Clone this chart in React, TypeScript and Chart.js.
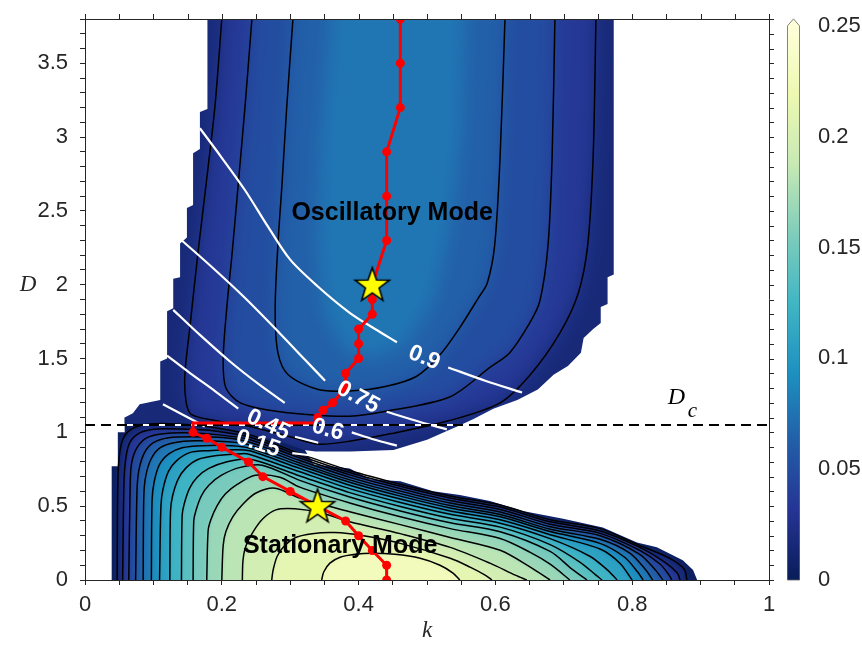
import React, { useEffect, useRef } from "react";
import { Chart, registerables } from "chart.js";

Chart.register(...registerables);

// ---------- axes ----------
const K_LABELS = [0, 0.2, 0.4, 0.6, 0.8, 1];
const D_LABELS = [0, 0.5, 1, 1.5, 2, 2.5, 3, 3.5];
const K_TICKS = Array.from({ length: 21 }, (_, i) => i / 20);
const D_TICKS = Array.from({ length: 39 }, (_, i) => i / 10);
const CB_LABELS = [0, 0.05, 0.1, 0.15, 0.2, 0.25];
const CB_MAX = 0.2531;
const D_MAX = 3.8;
const D_C = 1.05;

// ---------- stationary lobe (lower) ----------
const LOWER_EDGE = [
  [0.039, 0], [0.039, 0.77], [0.048, 0.77], [0.048, 1.0], [0.058, 1.0], [0.058, 1.1],
  [0.1, 1.09], [0.17, 1.08], [0.24, 1.02], [0.29, 0.95], [0.32, 0.89], [0.335, 0.783],
  [0.387, 0.756], [0.417, 0.682], [0.461, 0.669], [0.509, 0.602], [0.548, 0.575],
  [0.592, 0.535], [0.64, 0.468], [0.699, 0.415], [0.757, 0.355], [0.807, 0.254],
  [0.836, 0.221], [0.874, 0.134], [0.889, 0.067], [0.895, 0],
];
const LOWER_BASE = 0.004;
const LOWER_LEVELS = [0.01, 0.025, 0.04, 0.055, 0.07, 0.085, 0.1, 0.115, 0.13, 0.145, 0.16, 0.175, 0.19, 0.205, 0.22];
const LOWER_CONTOURS = [
  [[0.047, 0], [0.048, 0.669], [0.051, 0.87], [0.057, 0.97], [0.071, 1.03], [0.095, 1.057], [0.132, 1.057], [0.183, 1.037], [0.241, 0.983], [0.314, 0.856], [0.387, 0.742], [0.461, 0.649], [0.534, 0.569], [0.607, 0.508], [0.68, 0.408], [0.753, 0.348], [0.811, 0.234], [0.855, 0.147], [0.876, 0.074], [0.88, 0]],
  [[0.055, 0], [0.057, 0.669], [0.06, 0.836], [0.066, 0.936], [0.08, 0.997], [0.104, 1.023], [0.139, 1.023], [0.19, 1.01], [0.241, 0.967], [0.314, 0.842], [0.387, 0.728], [0.461, 0.635], [0.534, 0.555], [0.607, 0.494], [0.68, 0.394], [0.753, 0.332], [0.811, 0.221], [0.848, 0.12], [0.866, 0.047], [0.87, 0]],
  [[0.064, 0], [0.066, 0.635], [0.068, 0.789], [0.076, 0.896], [0.09, 0.963], [0.114, 0.99], [0.146, 0.997], [0.197, 0.983], [0.241, 0.95], [0.314, 0.826], [0.387, 0.712], [0.461, 0.619], [0.534, 0.538], [0.607, 0.478], [0.68, 0.378], [0.753, 0.316], [0.811, 0.201], [0.841, 0.107], [0.854, 0.033], [0.858, 0]],
  [[0.074, 0], [0.076, 0.602], [0.079, 0.749], [0.087, 0.863], [0.1, 0.93], [0.122, 0.963], [0.154, 0.97], [0.205, 0.963], [0.241, 0.933], [0.314, 0.809], [0.387, 0.695], [0.461, 0.602], [0.534, 0.521], [0.607, 0.461], [0.68, 0.361], [0.753, 0.3], [0.811, 0.174], [0.834, 0.067], [0.845, 0]],
  [[0.085, 0], [0.086, 0.569], [0.089, 0.709], [0.097, 0.823], [0.11, 0.896], [0.13, 0.93], [0.161, 0.943], [0.209, 0.936], [0.241, 0.915], [0.314, 0.792], [0.387, 0.678], [0.461, 0.585], [0.534, 0.504], [0.607, 0.444], [0.68, 0.344], [0.753, 0.276], [0.797, 0.181], [0.82, 0.067], [0.83, 0]],
  [[0.097, 0], [0.098, 0.535], [0.101, 0.662], [0.109, 0.783], [0.123, 0.856], [0.142, 0.896], [0.171, 0.91], [0.215, 0.91], [0.241, 0.893], [0.314, 0.776], [0.387, 0.662], [0.461, 0.568], [0.534, 0.488], [0.607, 0.428], [0.68, 0.328], [0.753, 0.248], [0.789, 0.154], [0.808, 0.054], [0.816, 0]],
  [[0.109, 0], [0.111, 0.502], [0.114, 0.615], [0.122, 0.736], [0.134, 0.809], [0.153, 0.863], [0.18, 0.876], [0.222, 0.883], [0.241, 0.875], [0.314, 0.756], [0.387, 0.642], [0.461, 0.548], [0.534, 0.468], [0.607, 0.408], [0.68, 0.307], [0.753, 0.21], [0.782, 0.114], [0.8, 0]],
  [[0.124, 0], [0.125, 0.468], [0.128, 0.569], [0.136, 0.682], [0.147, 0.756], [0.165, 0.816], [0.193, 0.843], [0.23, 0.856], [0.241, 0.85], [0.314, 0.733], [0.387, 0.619], [0.461, 0.525], [0.534, 0.445], [0.607, 0.385], [0.68, 0.28], [0.738, 0.161], [0.764, 0.067], [0.778, 0]],
  [[0.141, 0], [0.142, 0.435], [0.145, 0.515], [0.153, 0.622], [0.164, 0.696], [0.181, 0.756], [0.209, 0.803], [0.241, 0.82], [0.314, 0.705], [0.387, 0.592], [0.461, 0.498], [0.534, 0.418], [0.607, 0.358], [0.68, 0.24], [0.724, 0.12], [0.747, 0.033], [0.756, 0]],
  [[0.158, 0], [0.159, 0.401], [0.162, 0.468], [0.17, 0.569], [0.181, 0.642], [0.199, 0.709], [0.227, 0.763], [0.259, 0.778], [0.314, 0.675], [0.387, 0.562], [0.461, 0.468], [0.534, 0.388], [0.607, 0.327], [0.68, 0.194], [0.712, 0.074], [0.734, 0]],
  [[0.178, 0], [0.18, 0.334], [0.184, 0.408], [0.193, 0.502], [0.205, 0.582], [0.223, 0.649], [0.249, 0.709], [0.285, 0.696], [0.314, 0.629], [0.387, 0.522], [0.461, 0.428], [0.534, 0.348], [0.607, 0.281], [0.651, 0.187], [0.68, 0.107], [0.709, 0]],
  [[0.2, 0], [0.202, 0.234], [0.206, 0.328], [0.216, 0.428], [0.231, 0.515], [0.25, 0.589], [0.278, 0.622], [0.314, 0.555], [0.387, 0.462], [0.461, 0.375], [0.534, 0.288], [0.607, 0.201], [0.651, 0.087], [0.68, 0]],
  [[0.23, 0], [0.231, 0.134], [0.235, 0.227], [0.246, 0.328], [0.26, 0.415], [0.279, 0.475], [0.307, 0.482], [0.344, 0.455], [0.387, 0.395], [0.461, 0.314], [0.534, 0.221], [0.592, 0.114], [0.629, 0.033], [0.646, 0]],
  [[0.273, 0], [0.275, 0.067], [0.281, 0.161], [0.292, 0.234], [0.308, 0.288], [0.332, 0.314], [0.365, 0.321], [0.405, 0.301], [0.461, 0.248], [0.534, 0.147], [0.563, 0.087], [0.585, 0.033], [0.595, 0]],
  [[0.346, 0], [0.349, 0.054], [0.358, 0.114], [0.373, 0.154], [0.395, 0.174], [0.42, 0.181], [0.453, 0.174], [0.49, 0.147], [0.519, 0.1], [0.538, 0.047], [0.548, 0]],
];

// ---------- oscillatory lobe (upper) ----------
const UPPER_EDGE = [
  [0.179, 3.8], [0.179, 3.19], [0.168, 3.17], [0.168, 2.92], [0.158, 2.89], [0.158, 2.54],
  [0.149, 2.52], [0.149, 2.32], [0.139, 2.28], [0.139, 2.05], [0.129, 2.04], [0.129, 1.84],
  [0.12, 1.82], [0.12, 1.5], [0.11, 1.48], [0.11, 1.22], [0.08, 1.19], [0.07, 1.13],
  [0.058, 1.1], [0.058, 1.06], [0.1, 1.06], [0.17, 1.04], [0.24, 0.99], [0.29, 0.93],
  [0.32, 0.88], [0.337, 0.87], [0.388, 0.87], [0.451, 0.88], [0.5, 0.95], [0.549, 1.05],
  [0.568, 1.09], [0.597, 1.16], [0.632, 1.22], [0.662, 1.29], [0.685, 1.39], [0.706, 1.45],
  [0.725, 1.54], [0.729, 1.64], [0.743, 1.7], [0.754, 1.74], [0.754, 1.85], [0.764, 1.87],
  [0.764, 2.05], [0.773, 2.07], [0.773, 3.8],
];
const UPPER_BASE = 0.016;
const UPPER_FILLS = [0.034, 0.05, 0.064];
const UPPER_CONTOURS = [
  [[0.2, 3.8], [0.19, 3.21], [0.177, 2.68], [0.165, 2.21], [0.154, 1.74], [0.146, 1.39], [0.148, 1.2], [0.156, 1.12], [0.19, 1.08], [0.241, 1.04], [0.3, 0.97], [0.341, 0.92], [0.387, 0.94], [0.446, 0.99], [0.533, 1.08], [0.607, 1.2], [0.651, 1.39], [0.694, 1.67], [0.721, 1.94], [0.735, 2.27], [0.743, 2.88], [0.747, 3.8]],
  [[0.244, 3.8], [0.234, 3.21], [0.224, 2.68], [0.215, 2.21], [0.207, 1.83], [0.202, 1.49], [0.206, 1.3], [0.227, 1.2], [0.27, 1.15], [0.329, 1.12], [0.387, 1.11], [0.436, 1.14], [0.533, 1.24], [0.592, 1.44], [0.621, 1.54], [0.65, 1.74], [0.665, 1.89], [0.677, 2.27], [0.683, 2.88], [0.687, 3.8]],
  [[0.304, 3.8], [0.295, 3.21], [0.288, 2.68], [0.282, 2.27], [0.278, 1.83], [0.282, 1.54], [0.297, 1.39], [0.341, 1.29], [0.387, 1.28], [0.439, 1.31], [0.485, 1.38], [0.518, 1.52], [0.548, 1.71], [0.575, 1.91], [0.588, 2.01], [0.599, 2.27], [0.607, 2.88], [0.614, 3.8]],
];
const UPPER_CORE_FILL = 0.077;
const UPPER_CORE = [[0.36, 3.8], [0.345, 3.0], [0.34, 2.3], [0.35, 1.8], [0.38, 1.56], [0.42, 1.5], [0.47, 1.6], [0.51, 1.9], [0.535, 2.4], [0.55, 3.0], [0.555, 3.8]];

// ---------- white labelled contours ----------
const WHITE_SEGMENTS = [
  [[0.168, 3.06], [0.2, 2.86], [0.234, 2.64], [0.268, 2.39], [0.3, 2.17], [0.34, 1.99], [0.387, 1.81], [0.424, 1.7], [0.456, 1.61]],
  [[0.531, 1.44], [0.585, 1.35], [0.639, 1.27]],
  [[0.139, 2.31], [0.183, 2.13], [0.234, 1.91], [0.285, 1.67], [0.322, 1.49], [0.351, 1.35]],
  [[0.441, 1.14], [0.49, 1.07], [0.529, 1.02]],
  [[0.129, 1.83], [0.168, 1.66], [0.212, 1.48], [0.253, 1.33], [0.292, 1.2]],
  [[0.39, 1.0], [0.424, 0.95], [0.456, 0.91]],
  [[0.12, 1.52], [0.154, 1.4], [0.19, 1.28], [0.224, 1.16]],
  [[0.307, 0.97], [0.341, 0.93]],
  [[0.114, 1.19], [0.143, 1.12], [0.175, 1.04]],
  [[0.303, 0.86], [0.336, 0.84]],
];
const WHITE_LABEL_TEXT = ["0.9", "0.75", "0.6", "0.45", "0.15"];
const WHITE_LABEL_K = [0.496, 0.399, 0.355, 0.268, 0.253];
const WHITE_LABEL_D = [1.505, 1.237, 1.017, 1.05, 0.923];
const WHITE_LABEL_ANGLE = [22, 28, 15, 25, 18];

// ---------- bifurcation path ----------
const PATH_K = [0.461, 0.461, 0.461, 0.441, 0.441, 0.441, 0.42, 0.42, 0.42, 0.4, 0.4, 0.4, 0.381, 0.381, 0.362, 0.348, 0.34, 0.337, 0.158, 0.158, 0.178, 0.2, 0.239, 0.26, 0.3, 0.34, 0.381, 0.4, 0.42, 0.441, 0.441];
const PATH_D = [3.8, 3.5, 3.2, 2.9, 2.6, 2.3, 2.0, 1.9, 1.8, 1.7, 1.6, 1.5, 1.4, 1.3, 1.2, 1.15, 1.1, 1.064, 1.064, 1.0, 0.96, 0.9, 0.8, 0.7, 0.6, 0.5, 0.4, 0.3, 0.2, 0.1, 0.0];
const PATH_DOT = [1, 1, 1, 1, 1, 1, 1, 1, 1, 1, 1, 1, 1, 1, 1, 1, 1, 0, 0, 1, 1, 1, 1, 1, 1, 1, 1, 1, 1, 1, 1];
const STAR_K = [0.42, 0.34];
const STAR_D = [2.0, 0.5];

// ---------- colours ----------
const YLGNBU = ["#081d58", "#253494", "#225ea8", "#1d91c0", "#41b6c4", "#7fcdbb", "#c7e9b4", "#edf8b1", "#ffffd9"];
const AXIS_COLOR = "#262626";
const SANS = '"Liberation Sans", Arial, Helvetica, sans-serif';
const SERIF = '"Liberation Serif", "Times New Roman", serif';

const rgbOf = (h: string) => [1, 3, 5].map((i) => parseInt(h.slice(i, i + 2), 16));
function cmap(v: number): string {
  const n = YLGNBU.length - 1;
  const t = Math.min(1, Math.max(0, v / 0.25)) * n;
  const i = Math.min(n - 1, Math.floor(t));
  const f = t - i;
  const a = rgbOf(YLGNBU[i]);
  const b = rgbOf(YLGNBU[i + 1]);
  return `rgb(${a.map((c, j) => Math.round(c + (b[j] - c) * f)).join(",")})`;
}

const toXY = (pts: number[][]) => pts.map(([x, y]) => ({ x, y }));

function makeStar(r: number): HTMLCanvasElement {
  const c = document.createElement("canvas");
  const s = Math.ceil(2 * r + 4);
  c.width = s;
  c.height = s;
  const g = c.getContext("2d")!;
  g.translate(s / 2, s / 2 + 1);
  g.beginPath();
  for (let i = 0; i < 10; i++) {
    const rad = i % 2 === 0 ? r : r * 0.4;
    const a = -Math.PI / 2 + (i * Math.PI) / 5;
    const x = rad * Math.cos(a);
    const y = rad * Math.sin(a);
    i ? g.lineTo(x, y) : g.moveTo(x, y);
  }
  g.closePath();
  g.fillStyle = "#ffff00";
  g.fill();
  g.lineWidth = 1.6;
  g.strokeStyle = "#000";
  g.stroke();
  return c;
}

// Shaded field: bands between contour levels, softened, clipped to each lobe.
const fieldPlugin = {
  id: "field",
  beforeDatasetsDraw(chart: any) {
    const { ctx, chartArea: a, scales } = chart;
    const xs = scales.x;
    const ys = scales.y;
    const P = (p: number[]) => [xs.getPixelForValue(p[0]), ys.getPixelForValue(p[1])];
    const tracePoly = (g: CanvasRenderingContext2D, pts: number[][]) => {
      pts.forEach((p, i) => {
        const [x, y] = P(p);
        i ? g.lineTo(x, y) : g.moveTo(x, y);
      });
      g.closePath();
    };
    const traceOpen = (g: CanvasRenderingContext2D, pts: number[][], edgeY: number) => {
      const q = pts.map(P);
      g.moveTo(q[0][0], edgeY);
      q.forEach(([x, y]) => g.lineTo(x, y));
      g.lineTo(q[q.length - 1][0], edgeY);
      g.closePath();
    };
    const lobe = (edge: number[][], base: number, bands: { pts: number[][]; value: number; open: string }[], blur: number) => {
      const off = document.createElement("canvas");
      off.width = chart.width;
      off.height = chart.height;
      const g = off.getContext("2d")!;
      g.fillStyle = cmap(base);
      g.fillRect(0, 0, off.width, off.height);
      bands.forEach((b) => {
        g.beginPath();
        if (b.open === "bottom") traceOpen(g, b.pts, a.bottom + 30);
        else if (b.open === "top") traceOpen(g, b.pts, a.top - 30);
        else tracePoly(g, b.pts);
        g.fillStyle = cmap(b.value);
        g.fill();
      });
      ctx.save();
      ctx.beginPath();
      tracePoly(ctx, edge);
      ctx.clip();
      ctx.filter = `blur(${blur}px)`;
      ctx.drawImage(off, 0, 0);
      ctx.restore();
    };
    lobe(
      LOWER_EDGE,
      LOWER_BASE,
      LOWER_CONTOURS.map((pts, i) => ({ pts, value: LOWER_LEVELS[i] + 0.0075, open: "bottom" })),
      2
    );
    lobe(
      UPPER_EDGE,
      UPPER_BASE,
      [
        ...UPPER_CONTOURS.map((pts, i) => ({ pts, value: UPPER_FILLS[i], open: "top" })),
        { pts: UPPER_CORE, value: UPPER_CORE_FILL, open: "top" },
      ],
      9
    );
  },
  afterDatasetsDraw(chart: any) {
    const { ctx, chartArea: a, scales } = chart;
    const xs = scales.x;
    const ys = scales.y;
    ctx.save();
    // inline labels of the white contours
    ctx.fillStyle = "#ffffff";
    ctx.font = `bold 23px ${SANS}`;
    ctx.textAlign = "center";
    ctx.textBaseline = "middle";
    WHITE_LABEL_TEXT.forEach((t, i) => {
      ctx.save();
      ctx.translate(xs.getPixelForValue(WHITE_LABEL_K[i]), ys.getPixelForValue(WHITE_LABEL_D[i]));
      ctx.rotate((WHITE_LABEL_ANGLE[i] * Math.PI) / 180);
      ctx.fillText(t, 0, 0);
      ctx.restore();
    });
    // region names
    ctx.fillStyle = "#000";
    ctx.font = `bold 25px ${SANS}`;
    ctx.fillText("Oscillatory Mode", xs.getPixelForValue(0.449), ys.getPixelForValue(2.488));
    ctx.fillText("Stationary Mode", xs.getPixelForValue(0.373), ys.getPixelForValue(0.227));
    // D_c label next to the critical line
    ctx.textAlign = "left";
    ctx.textBaseline = "alphabetic";
    const dcx = xs.getPixelForValue(0.852);
    const dcy = ys.getPixelForValue(D_C);
    ctx.font = `italic 24px ${SERIF}`;
    ctx.fillText("D", dcx, dcy - 21);
    ctx.font = `italic 21px ${SERIF}`;
    ctx.fillText("c", dcx + 20, dcy - 8);
    // y-axis name (horizontal)
    ctx.fillStyle = AXIS_COLOR;
    ctx.font = `italic 23px ${SERIF}`;
    ctx.textAlign = "center";
    ctx.textBaseline = "middle";
    ctx.fillText("D", a.left - 57, ys.getPixelForValue(2.0));
    ctx.restore();
  },
  afterDraw(chart: any) {
    const { ctx, chartArea: a, scales } = chart;
    const xs = scales.x;
    const ys = scales.y;
    const cb = scales.cb;
    ctx.save();
    // top and right frame with outward ticks
    ctx.strokeStyle = AXIS_COLOR;
    ctx.lineWidth = 1;
    ctx.beginPath();
    ctx.moveTo(a.left, a.top + 0.5);
    ctx.lineTo(a.right, a.top + 0.5);
    ctx.moveTo(a.right + 0.5, a.top);
    ctx.lineTo(a.right + 0.5, a.bottom);
    K_TICKS.forEach((v) => {
      const x = Math.round(xs.getPixelForValue(v)) + 0.5;
      ctx.moveTo(x, a.top);
      ctx.lineTo(x, a.top - 5);
    });
    D_TICKS.forEach((v) => {
      const y = Math.round(ys.getPixelForValue(v)) + 0.5;
      ctx.moveTo(a.right, y);
      ctx.lineTo(a.right + 5, y);
    });
    ctx.stroke();
    // colour bar
    const x0 = a.right + 18;
    const w = 13;
    const yb = cb.getPixelForValue(0);
    const yt = cb.getPixelForValue(0.25);
    const grad = ctx.createLinearGradient(0, yb, 0, yt);
    YLGNBU.forEach((c, i) => grad.addColorStop(i / (YLGNBU.length - 1), c));
    ctx.beginPath();
    ctx.moveTo(x0, yb);
    ctx.lineTo(x0, yt);
    ctx.lineTo(x0 + w / 2, yt - 7);
    ctx.lineTo(x0 + w, yt);
    ctx.lineTo(x0 + w, yb);
    ctx.closePath();
    ctx.fillStyle = grad;
    ctx.fill();
    ctx.fillStyle = YLGNBU[YLGNBU.length - 1];
    ctx.beginPath();
    ctx.moveTo(x0, yt + 0.5);
    ctx.lineTo(x0 + w / 2, yt - 7);
    ctx.lineTo(x0 + w, yt + 0.5);
    ctx.closePath();
    ctx.fill();
    ctx.beginPath();
    ctx.moveTo(x0 + 0.5, yb);
    ctx.lineTo(x0 + 0.5, yt);
    ctx.lineTo(x0 + w / 2, yt - 7);
    ctx.lineTo(x0 + w - 0.5, yt);
    ctx.lineTo(x0 + w - 0.5, yb);
    ctx.closePath();
    ctx.strokeStyle = "#666";
    ctx.lineWidth = 0.8;
    ctx.stroke();
    ctx.restore();
  },
};

const sameTick = (list: number[], v: number) => list.some((l) => Math.abs(l - v) < 1e-9);
const fmt = (v: number) => String(+v.toFixed(2));

export default function App() {
  const ref = useRef<HTMLCanvasElement>(null);

  useEffect(() => {
    const star = makeStar(18);
    const contourLine = (pts: number[][], order: number) => ({
      data: toXY(pts),
      showLine: true,
      borderColor: "#000",
      borderWidth: 1.5,
      pointRadius: 0,
      tension: 0.3,
      order,
    });
    const whiteLine = (pts: number[][]) => ({
      data: toXY(pts),
      showLine: true,
      borderColor: "#ffffff",
      borderWidth: 2.2,
      pointRadius: 0,
      tension: 0.3,
      order: 4,
    });
    const datasets: any[] = [
      ...LOWER_CONTOURS.map((c) => contourLine(c, 5)),
      ...UPPER_CONTOURS.map((c) => contourLine(c, 5)),
      ...WHITE_SEGMENTS.map(whiteLine),
      {
        data: toXY([[0, D_C], [1, D_C]]),
        showLine: true,
        borderColor: "#ffffff",
        borderWidth: 2,
        pointRadius: 0,
        order: 3,
      },
      {
        data: toXY([[0, D_C], [1, D_C]]),
        showLine: true,
        borderColor: "#000",
        borderWidth: 2,
        borderDash: [10, 6],
        pointRadius: 0,
        order: 2,
      },
      {
        data: PATH_K.map((k, i) => ({ x: k, y: PATH_D[i] })),
        showLine: true,
        borderColor: "#ff0000",
        borderWidth: 3,
        tension: 0,
        pointRadius: PATH_DOT.map((d) => (d ? 4.5 : 0)),
        pointBackgroundColor: "#ff0000",
        pointBorderWidth: 0,
        order: 1,
      },
      {
        data: STAR_K.map((k, i) => ({ x: k, y: STAR_D[i] })),
        showLine: false,
        pointStyle: star,
        pointRadius: 18,
        order: 0,
      },
    ];

    const tickFont = { family: SANS, size: 22 };
    const chart = new Chart(ref.current!, {
      type: "scatter",
      data: { datasets },
      options: {
        responsive: false,
        devicePixelRatio: 1,
        animation: false,
        events: [],
        layout: { padding: { top: 12, left: 0, right: 0, bottom: 0 } },
        plugins: { legend: { display: false }, tooltip: { enabled: false } },
        scales: {
          x: {
            type: "linear",
            position: "bottom",
            min: 0,
            max: 1,
            afterBuildTicks: (s: any) => {
              s.ticks = K_TICKS.map((value) => ({ value }));
            },
            afterFit: (s: any) => {
              s.height = 76;
              s.paddingLeft = 0;
              s.paddingRight = 0;
            },
            ticks: {
              autoSkip: false,
              maxRotation: 0,
              minRotation: 0,
              padding: 7,
              color: AXIS_COLOR,
              font: tickFont,
              callback: (v: any) => (sameTick(K_LABELS, v) ? fmt(v) : ""),
            },
            grid: { drawOnChartArea: false, drawTicks: true, tickLength: 5, color: AXIS_COLOR },
            border: { display: true, color: AXIS_COLOR, width: 1 },
            title: {
              display: true,
              text: "k",
              color: AXIS_COLOR,
              font: { family: SERIF, size: 23, style: "italic" },
              padding: { top: 0, bottom: 11 },
            },
          },
          y: {
            type: "linear",
            position: "left",
            min: 0,
            max: D_MAX,
            afterBuildTicks: (s: any) => {
              s.ticks = D_TICKS.map((value) => ({ value }));
            },
            afterFit: (s: any) => {
              s.width = 85;
              s.paddingTop = 0;
              s.paddingBottom = 0;
            },
            ticks: {
              autoSkip: false,
              padding: 12,
              color: AXIS_COLOR,
              font: tickFont,
              callback: (v: any) => (sameTick(D_LABELS, v) ? fmt(v) : ""),
            },
            grid: { drawOnChartArea: false, drawTicks: true, tickLength: 5, color: AXIS_COLOR },
            border: { display: true, color: AXIS_COLOR, width: 1 },
          },
          cb: {
            type: "linear",
            axis: "y",
            position: "right",
            min: 0,
            max: CB_MAX,
            afterBuildTicks: (s: any) => {
              s.ticks = CB_LABELS.map((value) => ({ value }));
            },
            afterFit: (s: any) => {
              s.width = 93;
              s.paddingTop = 0;
              s.paddingBottom = 0;
            },
            ticks: {
              autoSkip: false,
              padding: 41,
              color: AXIS_COLOR,
              font: tickFont,
              callback: (v: any) => fmt(v),
            },
            grid: { display: false, drawOnChartArea: false },
            border: { display: false },
          },
        },
      } as any,
      plugins: [fieldPlugin],
    });
    return () => chart.destroy();
  }, []);

  return (
    <div style={{ position: "fixed", left: 0, top: 0, width: 862, height: 656, background: "#fff" }}>
      <canvas ref={ref} width={862} height={656} style={{ display: "block", width: 862, height: 656 }} />
    </div>
  );
}
